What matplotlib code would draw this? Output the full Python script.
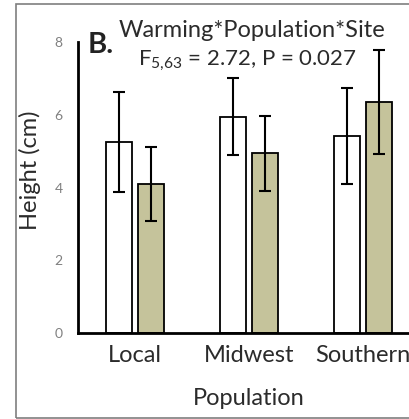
import matplotlib
matplotlib.use("Agg")
import matplotlib.pyplot as plt
import numpy as np
from matplotlib.patches import Rectangle

plt.rcParams['font.family'] = ['Lato', 'DejaVu Sans']
plt.rcParams['mathtext.fontset'] = 'custom'
plt.rcParams['mathtext.rm'] = 'Lato'

populations = ["Local", "Midwest", "Southern"]
ambient_means = [5.27, 5.96, 5.43]
ambient_err = [1.38, 1.06, 1.33]
warmed_means = [4.10, 4.95, 6.37]
warmed_err = [1.02, 1.03, 1.43]
y_ticks = [0, 2, 4, 6, 8]

text_color = '#2b2b2b'
olive = '#C5C39B'

fig = plt.figure(figsize=(4.09, 4.19), dpi=100)
# axes run past the right edge of the figure
ax = fig.add_axes([0.1907, 0.2053, 0.836, 0.6933])

x = np.arange(len(populations))
w = 0.23
off = 0.14
err_kw = dict(ecolor='black', elinewidth=1.5, capsize=4, capthick=1.5)
ax.bar(x - off, ambient_means, w, yerr=ambient_err, color='white',
       edgecolor='black', linewidth=1.3, error_kw=err_kw)
ax.bar(x + off, warmed_means, w, yerr=warmed_err, color=olive,
       edgecolor='black', linewidth=1.3, error_kw=err_kw)

ax.set_xlim(-0.5, 2.5)
ax.set_ylim(0, 8)
ax.set_yticks(y_ticks)
ax.set_xticks(x)
ax.set_xticklabels(populations, fontsize=17, color=text_color)
ax.tick_params(axis='y', length=0, pad=11, labelsize=10, labelcolor='#808080')
ax.tick_params(axis='x', length=0, pad=9)
for s in ['top', 'right']:
    ax.spines[s].set_visible(False)
for s in ['left', 'bottom']:
    ax.spines[s].set_linewidth(2)
    ax.spines[s].set_color('black')

ax.set_ylabel("Height (cm)", fontsize=17, color=text_color, va='center')
ax.yaxis.set_label_coords(-0.14, 0.561)
ax.set_xlabel("Population", fontsize=17, color=text_color, va='center')
ax.xaxis.set_label_coords(0.5, -0.224)

ax.text(0.028, 0.99, "B.", transform=ax.transAxes, fontsize=21,
        fontweight='bold', color='#222222', va='center', ha='left')
fig.text(0.617, 0.928, "Warming*Population*Site", fontsize=17,
         color=text_color, ha='center', va='center')
fig.text(0.606, 0.855, r"F$_{\mathrm{5{,}63}}$ = 2.72, P = 0.027", fontsize=16,
         color=text_color, ha='center', va='center')

# outer frame, open on the right
fig.add_artist(Rectangle((16 / 409, 1 / 419), 1.2, 414 / 419,
                         transform=fig.transFigure, fill=False,
                         edgecolor='#7f7f7f', linewidth=1.2, clip_on=False))

fig.savefig("out.png", dpi=100)
